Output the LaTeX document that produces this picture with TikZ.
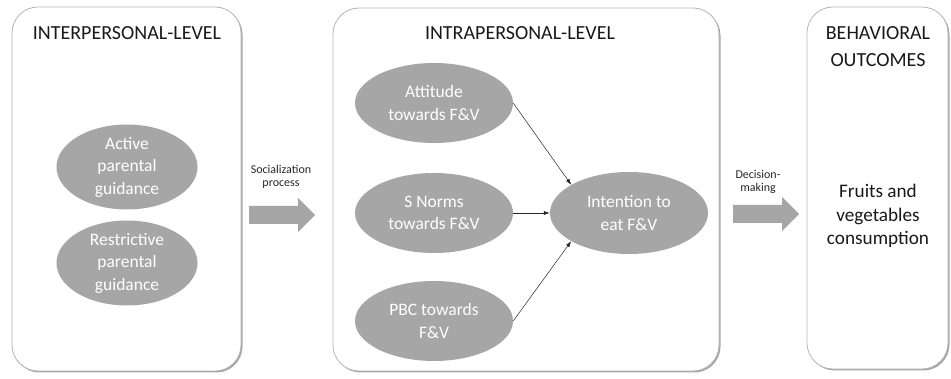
\documentclass[tikz,border=0pt]{standalone}
\usepackage{fontspec}
\setmainfont{Carlito}
\usetikzlibrary{shapes.geometric,arrows.meta,shadows}
\definecolor{ellgray}{HTML}{A6A6A6}
\definecolor{boxline}{HTML}{B5B5B5}
\begin{document}
\begin{tikzpicture}[x=1pt,y=-1pt,
  panel/.style={draw=boxline, line width=0.8pt, fill=white, rounded corners=26pt,
    drop shadow={shadow xshift=1.5pt, shadow yshift=-1.5pt, opacity=0.7, fill=gray}},
  oval/.style={ellipse, fill=ellgray, text=white, inner sep=0pt, align=center,
    font=\fontsize{17.5}{22.5}\selectfont},
  title/.style={font=\fontsize{20}{27}\selectfont, align=center, text=black!90},
  small/.style={font=\fontsize{12}{13}\selectfont, align=center, text=black!85},
  blockarrow/.style={fill=ellgray, draw=none},
  link/.style={-{Latex[length=6pt,width=4pt]}, line width=0.5pt, black!85}]
\useasboundingbox (0,0) rectangle (951,379);
% panels
\draw[panel] (12,7) rectangle (241,371);
\draw[panel] (333,8) rectangle (719,371);
\draw[panel] (807,7) rectangle (948,369);
% titles
\node[title] (t1) at (127,33) {INTERPERSONAL-LEVEL};
\node[title] (t2) at (520,33) {INTRAPERSONAL-LEVEL};
\node[title] (t3) at (878,46.5) {BEHAVIORAL\\OUTCOMES};
% left ellipses
\node[oval, minimum width=141pt, minimum height=70pt] (apg) at (127,167) {Active\\parental\\guidance};
\node[oval, minimum width=141pt, minimum height=70pt] (rpg) at (127,263) {Restrictive\\parental\\guidance};
% middle ellipses
\node[oval, minimum width=158pt, minimum height=80pt] (att) at (434,103) {Attitude\\towards F\&V};
\node[oval, minimum width=158pt, minimum height=80pt] (sn) at (434,213) {S Norms\\towards F\&V};
\node[oval, minimum width=158pt, minimum height=80pt] (pbc) at (434,321) {PBC towards\\F\&V};
\node[oval, minimum width=158pt, minimum height=82pt] (int) at (629,213) {Intention to\\eat F\&V};
% connectors
\draw[link] (att.east) -- (int.154);
\draw[link] (sn.east) -- (int.west);
\draw[link] (pbc.east) -- (int.206);
% block arrows
\node[small] (soc) at (281,177) {Socialization\\process};
\fill[blockarrow] (249,206) -- (298,206) -- (298,198) -- (315,215) -- (298,232) -- (298,224) -- (249,224) -- cycle;
\node[small] (dec) at (758,182) {Decision-\\making};
\fill[blockarrow] (733,205) -- (782,205) -- (782,197) -- (799,214) -- (782,231) -- (782,223) -- (733,223) -- cycle;
% outcome text
\node[font=\fontsize{19.2}{23.5}\selectfont, align=center, text=black!90] (out) at (878,216) {Fruits and\\vegetables\\consumption};
\end{tikzpicture}
\end{document}
